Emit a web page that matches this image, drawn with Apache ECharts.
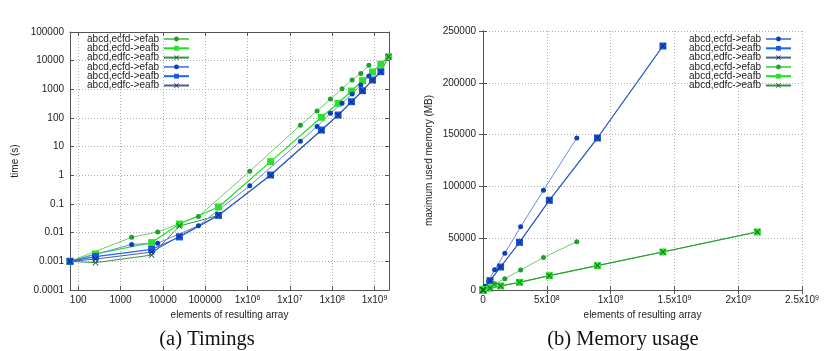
<!DOCTYPE html>
<html><head><meta charset="utf-8">
<script src="https://cdn.jsdelivr.net/npm/echarts@6/dist/echarts.min.js"></script>
<style>html,body{margin:0;padding:0;background:#fff}#c{width:831px;height:351px}</style>
</head><body><div id="c"></div>
<script>
// ---- data ----
const labels = ['abcd,ecfd->efab', 'abcd,ecfd->eafb', 'abcd,edfc->eafb'];

// x values (elements of resulting array)
const xEfab = [64, 1830, 7540, 69300, 1130000, 17700000, 44000000, 91000000, 171000000, 295000000, 474000000, 735000000];
const xEafb = [64, 256, 5430, 24600, 206000, 3500000, 55700000, 138000000, 286000000, 520000000, 897000000, 1410000000, 2150000000];

// timings (s)
const tGreenEfab = [0.001, 0.0069, 0.0106, 0.037, 1.38, 56, 176, 460, 1050, 2100, 3600, 6900];
const tGreenEafb = [0.001, 0.0018, 0.0045, 0.020, 0.079, 3.0, 106, 326, 875, 2000, 4020, 7470, 13800];
const tGreenEdfc = [0.001, 0.0009, 0.00165, 0.017, 0.040, 1.0, 37, 125, 365, 880, 2080, 4100, 13800];
const tBlueEfab  = [0.001, 0.0039, 0.0043, 0.0175, 0.435, 15.4, 51, 146, 326, 690, 1420, 2900];
const tBlueEafb  = [0.001, 0.00146, 0.0026, 0.0071, 0.040, 1.03, 38, 127, 371, 897, 2120, 4120];
const tBlueEdfc  = [0.001, 0.0012, 0.0021, 0.0075, 0.041, 1.0, 37, 125, 365, 880, 2080, 4100];

// memory (MB)
const mBlueEfab  = [0, 1, 2, 14, 230, 3600, 9000, 19600, 35500, 61000, 96300, 146800];
const mBlueEafb  = [0, 0, 1, 3, 35, 580, 9000, 22200, 46000, 86600, 146700, 235500];
const mBlueEdfc  = [0, 0, 1, 3, 35, 580, 9100, 22300, 46100, 86700, 146800, 235600];
const mGreenEfab = [0, 0, 1, 5, 75, 1150, 2900, 6000, 10900, 19300, 31400, 46600];
const mGreenEafb = [0, 0, 0, 1, 5, 95, 1800, 3900, 7400, 13800, 23500, 36700, 56000];
const mGreenEdfc = [0, 0, 0, 1, 5, 95, 1800, 3900, 7450, 13850, 23600, 36800, 56200];

// tick labels
const memXTicks = ['0', '5x10{s|8}', '1x10{s|9}', '1.5x10{s|9}', '2x10{s|9}', '2.5x10{s|9}'];

// ---- styles ----
const XSYM = 'path://M0,1L1,0L5,4L9,0L10,1L6,5L10,9L9,10L5,6L1,10L0,9L4,5Z';
const stG = [
  {line:'#66d066', mark:'#1f9f2f', symbol:'circle', size:5, width:1},
  {line:'#19e619', mark:'#2ee02e', symbol:'rect', size:7, width:1.2},
  {line:'#3a8f48', mark:'#155f25', symbol:XSYM, size:6, width:1}
];
const stB = [
  {line:'#6a8ae0', mark:'#0a3fb8', symbol:'circle', size:5, width:1},
  {line:'#1a66ff', mark:'#1a56de', symbol:'rect', size:7, width:1.2},
  {line:'#4a5f98', mark:'#0f2a70', symbol:XSYM, size:6, width:1}
];
const FONT = 'Liberation Sans';
const TXT = '#222';

function mk(name, xs, ys, st, xi, yi) {
  return {
    name: name, type: 'line', xAxisIndex: xi, yAxisIndex: yi,
    data: ys.map((y, i) => [xs[i], y]),
    symbol: st.symbol, symbolSize: st.size, showSymbol: true,
    lineStyle: {color: st.line, width: st.width},
    itemStyle: {color: st.mark},
    emphasis: {disabled: true}, animation: false
  };
}

const series = [
  mk('L0|' + labels[0], xEfab, tGreenEfab, stG[0], 0, 0),
  mk('L1|' + labels[1], xEafb, tGreenEafb, stG[1], 0, 0),
  mk('L2|' + labels[2], xEafb, tGreenEdfc, stG[2], 0, 0),
  mk('L3|' + labels[0], xEfab, tBlueEfab, stB[0], 0, 0),
  mk('L4|' + labels[1], xEafb, tBlueEafb, stB[1], 0, 0),
  mk('L5|' + labels[2], xEafb, tBlueEdfc, stB[2], 0, 0),
  mk('R0|' + labels[0], xEfab, mBlueEfab, stB[0], 2, 2),
  mk('R1|' + labels[1], xEafb, mBlueEafb, stB[1], 2, 2),
  mk('R2|' + labels[2], xEafb, mBlueEdfc, stB[2], 2, 2),
  mk('R3|' + labels[0], xEfab, mGreenEfab, stG[0], 2, 2),
  mk('R4|' + labels[1], xEafb, mGreenEafb, stG[1], 2, 2),
  mk('R5|' + labels[2], xEafb, mGreenEdfc, stG[2], 2, 2)
];

const rich = {s: {fontSize: 7, fontFamily: FONT, color: TXT, verticalAlign: 'top', lineHeight: 8}};
function logXLabel(v) {
  const e = Math.round(Math.log10(v));
  if (e <= 5) return String(Math.pow(10, e));
  return '1x10{s|' + e + '}';
}
function logYLabel(v) {
  const e = Math.round(Math.log10(v));
  if (e >= 0) return String(Math.pow(10, e));
  return (Math.pow(10, e)).toFixed(-e);
}
const axLine = {show: true, lineStyle: {color: '#555', width: 1}};
const tick = {show: true, inside: true, length: 4, lineStyle: {color: '#555'}};
const split = {show: true, lineStyle: {type: [1, 2], color: '#b0b0b0'}};
const lbl = {color: TXT, fontSize: 10, fontFamily: FONT, rich: rich};
const nameStyle = {color: TXT, fontSize: 10, fontFamily: FONT};

const option = {
  animation: false,
  backgroundColor: '#fff',
  grid: [
    {left: 70, top: 32, width: 319, height: 258},
    {left: 483, top: 31, width: 319, height: 259}
  ],
  xAxis: [
    {type: 'log', gridIndex: 0, min: 64, max: 2.2e9, axisLine: axLine, axisTick: tick, splitLine: split,
     axisLabel: Object.assign({}, lbl, {formatter: logXLabel, showMinLabel: false, showMaxLabel: false, margin: 5}),
     name: 'elements of resulting array', nameLocation: 'middle', nameGap: 18, nameTextStyle: nameStyle},
    {type: 'log', gridIndex: 0, position: 'top', min: 64, max: 2.2e9, axisLine: axLine, axisTick: tick,
     splitLine: {show: false}, axisLabel: {show: false}},
    {type: 'value', gridIndex: 1, min: 0, max: 2.5e9, interval: 5e8, axisLine: axLine, axisTick: tick, splitLine: split,
     axisLabel: Object.assign({}, lbl, {formatter: (v) => memXTicks[Math.round(v / 5e8)], margin: 5}),
     name: 'elements of resulting array', nameLocation: 'middle', nameGap: 18, nameTextStyle: nameStyle},
    {type: 'value', gridIndex: 1, position: 'top', min: 0, max: 2.5e9, interval: 5e8, axisLine: axLine, axisTick: tick,
     splitLine: {show: false}, axisLabel: {show: false}}
  ],
  yAxis: [
    {type: 'log', gridIndex: 0, min: 1e-4, max: 1e5, axisLine: axLine, axisTick: tick, splitLine: split,
     axisLabel: Object.assign({}, lbl, {formatter: logYLabel, margin: 6}),
     name: 'time (s)', nameLocation: 'middle', nameGap: 50, nameTextStyle: nameStyle},
    {type: 'log', gridIndex: 0, position: 'right', min: 1e-4, max: 1e5, axisLine: axLine, axisTick: tick,
     splitLine: {show: false}, axisLabel: {show: false}},
    {type: 'value', gridIndex: 1, min: 0, max: 250000, interval: 50000, axisLine: axLine, axisTick: tick, splitLine: split,
     axisLabel: Object.assign({}, lbl, {formatter: (v) => String(v), margin: 7}),
     name: 'maximum used memory (MB)', nameLocation: 'middle', nameGap: 49, nameTextStyle: nameStyle},
    {type: 'value', gridIndex: 1, position: 'right', min: 0, max: 250000, interval: 50000, axisLine: axLine, axisTick: tick,
     splitLine: {show: false}, axisLabel: {show: false}}
  ],
  legend: [
    {orient: 'vertical', align: 'right', right: 641, top: 34, itemWidth: 25, itemHeight: 6, itemGap: -0.7, padding: 0,
     selectedMode: false, data: series.slice(0, 6).map(s => s.name), formatter: n => n.split('|')[1],
     textStyle: {fontSize: 10, fontFamily: FONT, color: TXT, lineHeight: 9.3}},
    {orient: 'vertical', align: 'right', right: 39, top: 34, itemWidth: 25, itemHeight: 6, itemGap: -0.7, padding: 0,
     selectedMode: false, data: series.slice(6).map(s => s.name), formatter: n => n.split('|')[1],
     textStyle: {fontSize: 10, fontFamily: FONT, color: TXT, lineHeight: 9.3}}
  ],
  graphic: [
    {type: 'text', x: 207, y: 340, style: {text: '(a) Timings', align: 'center', verticalAlign: 'middle', fontSize: 20.5, fontFamily: 'Liberation Serif', fill: '#111'}},
    {type: 'text', x: 623, y: 340, style: {text: '(b) Memory usage', align: 'center', verticalAlign: 'middle', fontSize: 20.5, fontFamily: 'Liberation Serif', fill: '#111'}}
  ],
  series: series
};
const chart = echarts.init(document.getElementById('c'), null, {renderer: 'canvas'});
chart.setOption(option);
</script>
</body></html>
